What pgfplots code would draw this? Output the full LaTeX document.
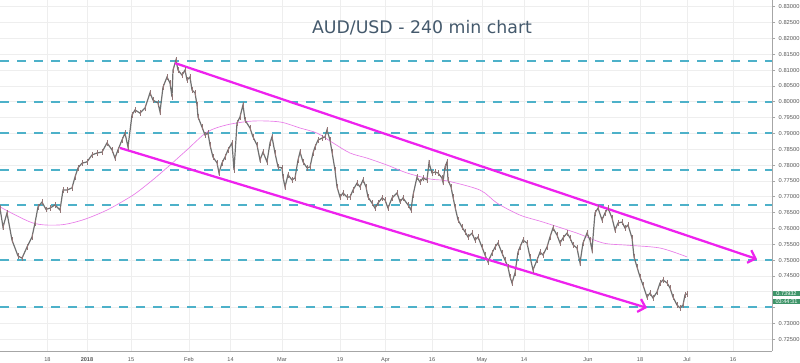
\documentclass[border=0pt]{standalone}
\usepackage{fontspec}
\setmainfont{DejaVu Sans}
\newfontfamily\arialf{Liberation Sans}
\usepackage{pgfplots}
\pgfplotsset{compat=1.18}
\usetikzlibrary{arrows.meta}
\definecolor{lvl}{HTML}{4DB1C9}
\definecolor{trend}{HTML}{EE22EE}
\definecolor{ma}{HTML}{E87DE8}
\definecolor{pricec}{HTML}{707070}
\definecolor{wick}{HTML}{957676}
\definecolor{titlec}{HTML}{44596C}
\definecolor{gridc}{HTML}{EEEEEE}
\definecolor{tickc}{HTML}{555555}
\definecolor{boxg}{HTML}{3E9468}
\pgfplotsset{lvlstyle/.style={lvl, line width=1.35pt, dash pattern=on 6.75pt off 6pt, forget plot}}
\begin{document}
\begin{tikzpicture}
\begin{axis}[
  scale only axis, width=579pt, height=263.25pt,
  xmin=0, xmax=772, ymin=0.72129, ymax=0.83212,
  axis x line*=bottom, axis y line*=right,
  axis line style={draw=black!35, -},
  xtick={47.5,87,131,189,230.5,282,340,385.5,432,482,524,588,640,687,733},
  xticklabels={18,\textbf{2018},15,Feb,14,Mar,19,Apr,16,May,14,Jun,18,Jul,16},
  ytick={0.725,0.730,0.745,0.750,0.755,0.760,0.765,0.770,0.775,0.780,0.785,0.790,0.795,0.800,0.805,0.810,0.815,0.820,0.825,0.830},
  extra y ticks={0.735,0.740}, extra y tick labels={},
  /pgf/number format/assume math mode=true,
  yticklabel={\pgfmathprintnumber[fixed,fixed zerofill,precision=5]{\tick}},
  yticklabel style={font=\arialf\fontsize{4.3}{5}\selectfont, text=tickc, xshift=-1pt},
  xticklabel style={font=\arialf\fontsize{4.2}{5}\selectfont, text=tickc, yshift=1pt},
  x tick style={draw=none},
  y tick style={draw=black!35, line width=0.4pt},
  major tick length=2.5pt, tick align=outside,
  grid=major, grid style={gridc, line width=0.4pt},
  clip=false,
]
% horizontal levels
\addplot[lvlstyle] coordinates {(0,0.8128) (772,0.8128)};
\addplot[lvlstyle] coordinates {(0,0.8000) (772,0.8000)};
\addplot[lvlstyle] coordinates {(0,0.7900) (772,0.7900)};
\addplot[lvlstyle] coordinates {(0,0.7785) (772,0.7785)};
\addplot[lvlstyle] coordinates {(0,0.7674) (772,0.7674)};
\addplot[lvlstyle] coordinates {(0,0.7500) (772,0.7500)};
\addplot[lvlstyle] coordinates {(0,0.7352) (772,0.7352)};
% moving average
\addplot[ma, line width=0.5pt, smooth] coordinates {
(0,0.7668)(33,0.7617)(60,0.7611)(83,0.7627)(107,0.7658)(130,0.7699)(140,0.7721)(155,0.7759)(170,0.7800)(187,0.7848)(207,0.7904)(227,0.7927)(253,0.7939)(280,0.7936)(300,0.7917)(317,0.7901)(333,0.7870)(350,0.7838)(367,0.7822)(387,0.7800)(407,0.7775)(430,0.7756)(447,0.7750)(480,0.7721)(497,0.7680)(520,0.7642)(543,0.7620)(577,0.7585)(603,0.7554)(627,0.7547)(660,0.7538)(687,0.7510)
};
% price
\addplot[pricec, line width=0.9pt, mark=|, mark size=2pt, mark options={line width=0.45pt, solid, draw=wick}] coordinates {
(0,0.7664)(3,0.7604)(7,0.7649)(12,0.7563)(18,0.7513)(22,0.7506)(27,0.7541)(32,0.7573)(35,0.7617)(38,0.7668)(42,0.7683)(46,0.7660)(50,0.7664)(55,0.7674)(60,0.7658)(63,0.7721)(67,0.7721)(72,0.7728)(75,0.7762)(78,0.7791)(82,0.7806)(87,0.7810)(92,0.7832)(97,0.7838)(102,0.7841)(107,0.7870)(112,0.7848)(115,0.7822)(118,0.7848)(122,0.7879)(125,0.7901)(128,0.7857)
(132,0.7958)(135,0.7974)(140,0.7964)(145,0.7980)(150,0.8028)(153,0.8005)(158,0.7996)(160,0.7968)(163,0.8046)(167,0.8078)(170,0.8059)(172,0.8015)(173,0.8100)(176,0.8132)(178,0.8100)(182,0.8084)(185,0.8100)(187,0.8069)(190,0.8078)(192,0.8037)(195,0.8028)(197,0.7990)(198,0.7952)(202,0.7920)(205,0.7895)(208,0.7901)(210,0.7863)(213,0.7825)(217,0.7807)(219,0.7775)(222,0.7807)(225,0.7825)(228,0.7848)(232,0.7870)(234,0.7784)(237,0.7933)(240,0.7952)(243,0.7990)(245,0.7942)(250,0.7917)(253,0.7889)(257,0.7863)
(260,0.7816)(263,0.7841)(267,0.7810)(270,0.7870)(272,0.7889)(275,0.7838)(278,0.7794)(282,0.7791)(283,0.7762)(285,0.7731)(288,0.7769)(292,0.7753)(295,0.7759)(298,0.7816)(300,0.7841)(303,0.7810)(307,0.7791)(310,0.7794)(313,0.7838)(315,0.7857)(318,0.7879)(322,0.7885)(325,0.7889)(327,0.7911)(330,0.7879)(332,0.7841)(335,0.7784)(337,0.7731)(340,0.7699)(343,0.7712)(347,0.7699)(350,0.7699)(353,0.7721)(357,0.7743)(360,0.7731)(363,0.7753)(366,0.7731)(368,0.7699)(372,0.7680)(375,0.7664)(378,0.7680)(382,0.7696)(385,0.7690)(388,0.7664)
(392,0.7696)(397,0.7712)(400,0.7684)(403,0.7696)(408,0.7674)(411,0.7658)(413,0.7705)(417,0.7762)(420,0.7746)(423,0.7759)(427,0.7753)(429,0.7807)(432,0.7775)(435,0.7778)(438,0.7775)(442,0.7759)(443,0.7746)(445,0.7794)(447,0.7810)(448,0.7753)(451,0.7731)(453,0.7699)(455,0.7668)(458,0.7627)(462,0.7604)(465,0.7589)(468,0.7573)(472,0.7585)(475,0.7563)(478,0.7573)(482,0.7541)(485,0.7516)(488,0.7494)(492,0.7522)(495,0.7541)(498,0.7554)(502,0.7522)(505,0.7500)(508,0.7478)(510,0.7447)(512,0.7428)(515,0.7459)(518,0.7525)
(520,0.7541)(523,0.7563)(527,0.7554)(530,0.7510)(533,0.7469)(537,0.7500)(540,0.7525)(543,0.7516)(547,0.7541)(550,0.7573)(553,0.7601)(557,0.7579)(560,0.7554)(563,0.7570)(567,0.7585)(570,0.7570)(573,0.7548)(577,0.7538)(580,0.7491)(583,0.7554)(587,0.7585)(590,0.7563)(592,0.7532)(595,0.7649)(598,0.7664)(602,0.7627)(605,0.7649)(608,0.7664)(612,0.7633)(615,0.7595)(618,0.7617)(622,0.7620)(625,0.7601)(628,0.7611)(632,0.7570)(634,0.7510)(637,0.7478)(640,0.7447)(643,0.7421)(647,0.7383)(650,0.7396)(653,0.7380)(657,0.7399)(660,0.7428)(663,0.7437)(667,0.7428)(670,0.7412)(673,0.7383)(677,0.7358)(680,0.7349)(683,0.7358)(685,0.7390)(687,0.7393)
};
% trend channel
\addplot[trend, line width=1.7pt, -{Straight Barb[length=5pt,width=10pt]}] coordinates {(175,0.8122)(757,0.7503)};
\addplot[trend, line width=1.7pt, -{Straight Barb[length=5pt,width=10pt]}] coordinates {(120,0.7854)(647,0.7349)};
% title
\node[font=\fontsize{13}{15}\selectfont, text=titlec] at (axis cs:422,0.8233) {AUD/USD - 240 min chart};
% price labels
\node[anchor=west, fill=boxg, text=white, font=\arialf\fontsize{4.2}{5}\selectfont, inner xsep=1.2pt, inner ysep=0.6pt, minimum width=20.5pt, xshift=0.4pt] at (axis cs:772,0.7394) {0.73932};
\node[anchor=west, fill=boxg, text=white, font=\arialf\fontsize{4.2}{5}\selectfont, inner xsep=1.2pt, inner ysep=0.6pt, minimum width=20.5pt, xshift=0.4pt] at (axis cs:772,0.7369) {03:44:31};
\end{axis}
\pgfresetboundingbox
\path (0,-9pt) rectangle (600pt,263.25pt);
\end{tikzpicture}
\end{document}
